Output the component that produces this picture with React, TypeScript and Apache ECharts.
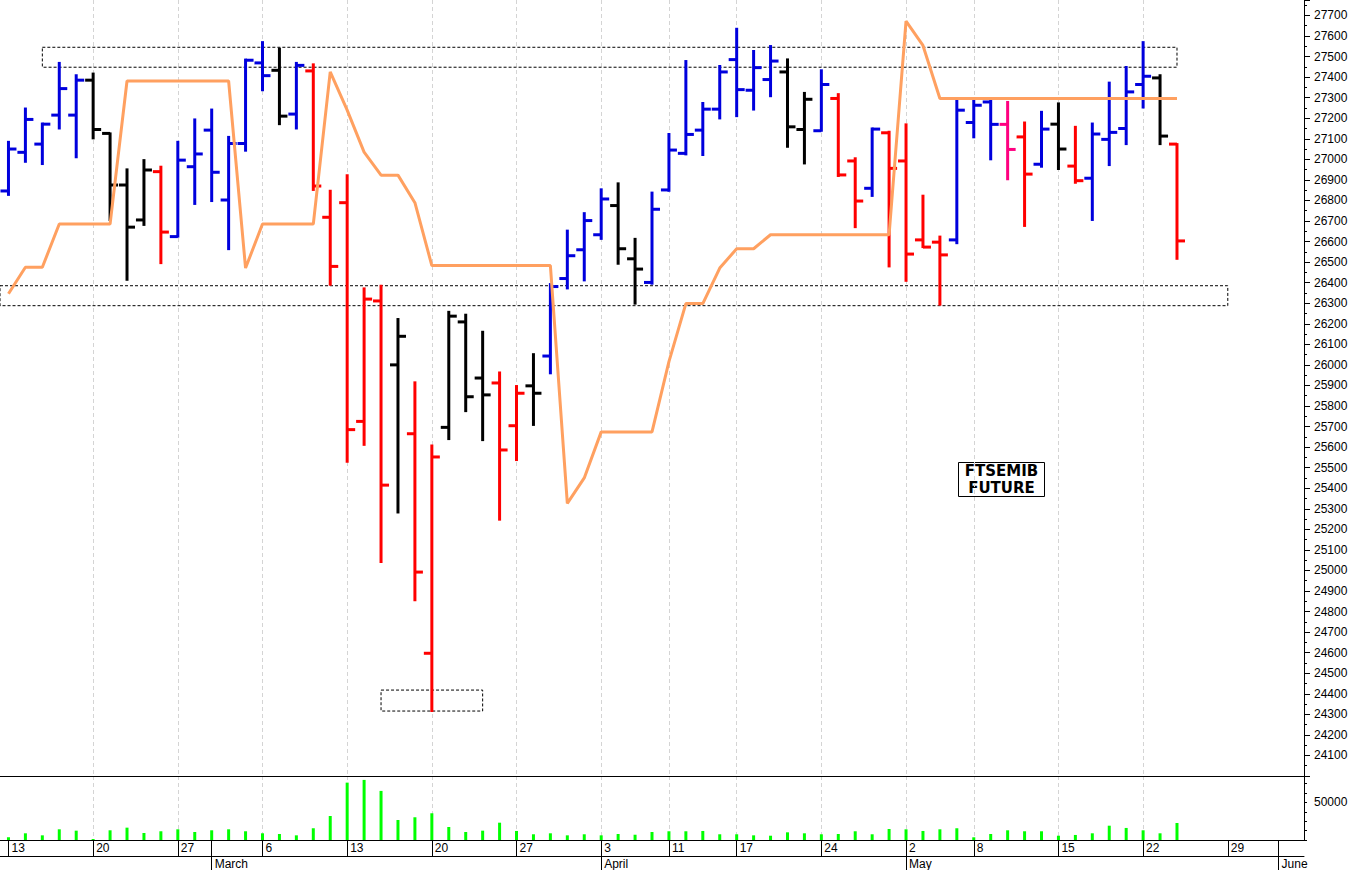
import React, { useEffect, useRef } from "react";
import * as echarts from "echarts";

// ---- Data (FTSEMIB future, daily OHLC, 13 Feb - 24 May) ----
const openP = [26846,27034,27074,27215,27215,27385,27126,26875,26705,26940, 26624,26964,27142,26802,27077,27469,27433,27220,27430,26718, 26789,25725,26311,26000,25665,24597,25696,26209,25936,25912, 25704,25898,26043,26420,26560,26633,26775,26516,26401,26851, 27029,27142,27244,27485,27336,27388,27425,27145,27139,27296, 26992,26859,27129,26992,26608,26597,26608,27179,27279,27170, 27109,26976,27171,26967,26908,27097,27150,27364,27396,27074];
const highP = [27085,27247,27174,27469,27409,27417,27126,26951,26996,26964, 27085,27194,27242,27109,27485,27570,27538,27469,27462,26847, 26923,26372,26385,26223,25915,25608,26258,26244,26161,25963, 25897,26052,26393,26653,26738,26854,26883,26613,26838,27123, 27478,27274,27454,27635,27527,27551,27486,27323,27433,27317, 27005,27150,27134,27170,26823,26624,27288,27288,27288,27279, 27179,27231,27272,27158,27174,27373,27449,27570,27409,27074];
const lowP = [26827,26988,26977,27150,27010,27102,26705,26414,26681,26495, 26624,26783,26797,26563,27042,27336,27171,27150,26851,26390, 25529,25611,25041,25282,24855,24316,25639,25775,25634,25247, 25537,25708,25959,26372,26411,26613,26492,26298,26395,26847, 27024,27021,27199,27210,27242,27307,27061,26980,27139,26919, 26670,26822,26479,26409,26573,26293,26592,27107,27000,26903, 26676,26964,26953,26886,26705,26972,27074,27252,27074,26516];
const closeP = [27050,27194,27171,27344,27385,27145,26875,26670,26948,26646, 26996,27026,26937,27077,27482,27407,27210,27457,26870,26479, 25685,26320,25415,26139,24992,25552,26237,25845,25854,25586, 25862,25862,26381,26531,26702,26807,26565,26466,26757,27045, 27121,27244,27425,27339,27446,27478,27158,27292,27364,26924, 26797,27147,26956,26539,26573,26535,27239,27263,27170,27048, 26928,27147,27050,26896,27123,27131,27328,27404,27113,26603];
// bar colour class: b = blue, k = black, r = red, p = pink
const barClass = [
  "b","b","b","b","b","k","k","k","k","r",
  "b","b","b","b","b","b","k","b","r","r",
  "r","r","r","k","r","r","k","k","k","r",
  "r","k","b","b","b","b","k","k","b","b",
  "b","b","b","b","b","b","k","k","b","r",
  "r","b","r","r","r","r","b","b","b","p",
  "r","b","k","r","b","b","b","b","k","r",
];
const stopLine = [26346,26475,26475,26685,26685,26685,26685,27381,27381,27381, 27381,27381,27381,27381,26471,26685,26685,26685,26685,27425, 27239,27035,26923,26923,26789,26483,26483,26483,26483,26483, 26483,26483,26483,25326,25450,25674,25674,25674,25674,26016, 26298,26298,26471,26565,26565,26633,26633,26633,26633,26633, 26633,26633,26633,27672,27554,27296,27296,27296,27296,27296, 27296,27296,27296,27296,27296,27296,27296,27296,27296,27296];
const volume = [3600,8900,6200,14200,12400,1300,12900,16400,9300,11600, 14200,10600,12900,14200,11600,8900,8000,6200,15600,31900, 76200,79800,65200,26600,30200,35500,17300,10600,12400,23000, 12000,7600,8900,6200,7600,6200,8000,7000,10600,11600, 11600,12000,7600,7600,6200,5700,10200,8900,7600,8000, 11600,7600,14600,14200,12000,14200,15600,3600,8000,12900, 11600,11600,5700,6700,8900,19000,16000,12900,8900,22600];

// dashed annotation boxes: [x from, x to] in trading-day index, [high, low] in price
const boxFrom = [2, -1.5, 22];
const boxTo = [69, 72, 28];
const boxHigh = [27545, 26385, 24418];
const boxLow = [27448, 26288, 24316];

// axis labels (trading-day index -> label)
const weekStartIdx = [0, 5, 10, 15, 20, 25, 30, 35, 39, 43, 48, 53, 57, 62, 67, 72];
const weekDayLabels = ["13", "20", "27", "6", "13", "20", "27", "3", "11", "17", "24", "2", "8", "15", "22", "29"];
const monthStartIdx = [12, 35, 53, 75];
const monthLabels = ["March", "April", "May", "June"];
const TOTAL_DAYS = 77;

const COLORS: Record<string, string> = { b: "#0000dd", k: "#000000", r: "#ff0000", p: "#ff0080" };
const FONT = '"Liberation Sans", Arial, sans-serif';

export default function App() {
  const ref = useRef<HTMLDivElement>(null);
  useEffect(() => {
    if (!ref.current) return;
    const chart = echarts.init(ref.current, undefined, { renderer: "svg" });
    const ohlcData = openP.map((o, i) => [i, o, highP[i], lowP[i], closeP[i]]);
    const lineData = stopLine.map((v, i) => [i, v]);
    const volData = volume.map((v, i) => [i, v]);
    const dayTicks = Array.from(new Set([...weekStartIdx, ...monthStartIdx])).sort((a, b) => a - b);
    const gridLine = {
      show: true, showMinLine: false, showMaxLine: false,
      lineStyle: { color: "#d4d4d4", type: [4, 3] as any, width: 1 },
    };
    const xMin = -0.5;
    const xMax = TOTAL_DAYS - 0.5;

    const option: any = {
      animation: false,
      backgroundColor: "#ffffff",
      grid: [
        { left: 0, top: 0, width: 1304, height: 776 },
        { left: 0, top: 776, width: 1304, height: 64 },
      ],
      xAxis: [
        {
          type: "value", gridIndex: 0, min: xMin, max: xMax, position: "bottom",
          axisLine: { show: true, onZero: false, lineStyle: { color: "#000", width: 1 } },
          axisTick: { show: false, customValues: weekStartIdx },
          axisLabel: { show: false, customValues: weekStartIdx },
          splitLine: gridLine,
        },
        {
          type: "value", gridIndex: 1, min: xMin, max: xMax, position: "bottom",
          axisLine: { show: true, onZero: false, lineStyle: { color: "#000", width: 1 } },
          axisTick: { show: true, customValues: dayTicks, length: 16, lineStyle: { color: "#000" } },
          axisLabel: {
            show: true, customValues: weekStartIdx, margin: 2, align: "left", verticalAlign: "top",
            padding: [0, 0, 0, 3], color: "#000", fontSize: 12, fontFamily: FONT,
            formatter: (v: number) => {
              const k = weekStartIdx.indexOf(Math.round(v));
              return k >= 0 ? weekDayLabels[k] : "";
            },
          },
          splitLine: { show: false },
        },
        {
          type: "value", gridIndex: 1, min: xMin, max: xMax, position: "top",
          axisLine: { show: false, onZero: false },
          axisTick: { show: false, customValues: weekStartIdx },
          axisLabel: { show: false, customValues: weekStartIdx },
          splitLine: gridLine,
        },
        {
          type: "value", gridIndex: 1, min: xMin, max: xMax, position: "bottom", offset: 16,
          axisLine: { show: true, onZero: false, lineStyle: { color: "#000", width: 1 } },
          axisTick: { show: true, customValues: monthStartIdx, length: 14, lineStyle: { color: "#000" } },
          axisLabel: {
            show: true, customValues: monthStartIdx, margin: 2, align: "left", verticalAlign: "top",
            padding: [0, 0, 0, 3], color: "#000", fontSize: 12, fontFamily: FONT,
            formatter: (v: number) => {
              const k = monthStartIdx.indexOf(Math.round(v));
              return k >= 0 ? monthLabels[k] : "";
            },
          },
          splitLine: { show: false },
        },
      ],
      yAxis: [
        {
          type: "value", gridIndex: 0, position: "right", min: 24000, max: 27775, interval: 100,
          axisLine: { show: true, onZero: false, lineStyle: { color: "#000", width: 1 } },
          axisTick: { show: true, length: 6, lineStyle: { color: "#000" } },
          minorTick: { show: true, splitNumber: 2, length: 3, lineStyle: { color: "#000" } },
          axisLabel: {
            margin: 10, color: "#000", fontSize: 12, fontFamily: FONT,
            formatter: (v: number) => (v % 100 === 0 && v >= 24100 && v <= 27700 ? String(v) : ""),
          },
          splitLine: { show: false },
          minorSplitLine: { show: false },
        },
        {
          type: "value", gridIndex: 1, position: "right", min: 0, max: 85000, interval: 12500,
          axisLine: { show: true, onZero: false, lineStyle: { color: "#000", width: 1 } },
          axisTick: { show: true, length: 3, lineStyle: { color: "#000" } },
          axisLabel: {
            margin: 10, color: "#000", fontSize: 12, fontFamily: FONT,
            formatter: (v: number) => (v === 50000 ? "50000" : ""),
          },
          splitLine: { show: false },
        },
      ],
      series: [
        {
          type: "custom",
          xAxisIndex: 0,
          yAxisIndex: 0,
          data: ohlcData,
          encode: { x: 0, y: [1, 2, 3, 4] },
          renderItem: (params: any, api: any) => {
            const i = api.value(0);
            const o = api.coord([i, api.value(1)]);
            const h = api.coord([i, api.value(2)]);
            const l = api.coord([i, api.value(3)]);
            const c = api.coord([i, api.value(4)]);
            const color = COLORS[barClass[params.dataIndex]] || "#000";
            const style = { stroke: color, lineWidth: 3, fill: null };
            return {
              type: "group",
              children: [
                { type: "line", shape: { x1: h[0], y1: h[1] - 1, x2: l[0], y2: l[1] + 1 }, style },
                { type: "line", shape: { x1: o[0] - 8, y1: o[1], x2: o[0], y2: o[1] }, style },
                { type: "line", shape: { x1: c[0], y1: c[1], x2: c[0] + 8, y2: c[1] }, style },
              ],
            };
          },
          silent: true,
          z: 2,
        },
        {
          type: "line",
          xAxisIndex: 0,
          yAxisIndex: 0,
          data: lineData,
          symbol: "none",
          lineStyle: { color: "#ffa060", width: 3 },
          itemStyle: { color: "#ffa060" },
          silent: true,
          clip: true,
          z: 3,
          markArea: {
            silent: true,
            itemStyle: { color: "rgba(0,0,0,0)", borderColor: "#000", borderWidth: 1, borderType: [3, 2] },
            data: boxFrom.map((x0, k) => [
              { coord: [x0, boxHigh[k]] },
              { coord: [boxTo[k], boxLow[k]] },
            ]),
          },
        },
        {
          type: "bar",
          xAxisIndex: 1,
          yAxisIndex: 1,
          data: volData,
          barWidth: 3,
          itemStyle: { color: "#00ff00" },
          silent: true,
        },
      ],
      graphic: [
        {
          type: "group",
          left: 958,
          top: 462,
          children: [
            { type: "rect", shape: { x: 0, y: 0, width: 86, height: 34 }, style: { fill: "#fff", stroke: "#000", lineWidth: 1 } },
            {
              type: "text", x: 43, y: 17,
              style: {
                text: "FTSEMIB\nFUTURE", fill: "#000", fontSize: 15, fontWeight: "bold",
                fontFamily: '"DejaVu Sans", sans-serif', align: "center", verticalAlign: "middle",
                textAlign: "center", textVerticalAlign: "middle", lineHeight: 17,
              },
            },
          ],
        },
      ],
    };
    chart.setOption(option);
    return () => chart.dispose();
  }, []);
  return (
    <div
      ref={ref}
      style={{ position: "absolute", left: 0, top: 0, width: 1352, height: 870, background: "#fff" }}
    />
  );
}
